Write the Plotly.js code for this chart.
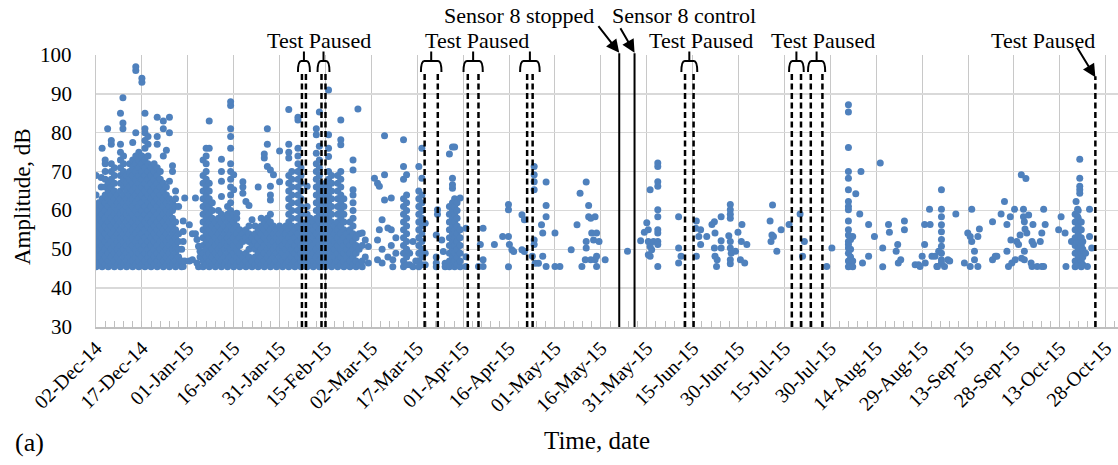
<!DOCTYPE html>
<html>
<head>
<meta charset="utf-8">
<script src="https://cdn.plot.ly/plotly-3.0.1.min.js"></script>
<style>html,body{margin:0;padding:0;background:#fff}#chart{width:1118px;height:465px}</style>
</head>
<body>
<div id="chart"></div>
<script>
// Each entry: [day offset from 02-Dec-2014, amplitude dB, amplitude dB, ...]
const dec14Cols = [
  [0, 45.5,47,49,51,53,55,57,59,61,64,69],
  [1, 46,48,50,52,54,56,58,60,62],
  [1.7, 66,68.5],
  [2, 45.5,47,49,51,53,55,57,59,61,63,76],
  [3, 46,48,50,52,54,56,58,60,62,64,66,68,70,72,73],
  [3.8, 81],
  [4, 45.5,47,49,51,53,55,57,59,61,63,65,67],
  [5, 46,48,50,52,54,56,58,60,62,64,66,68,70,72,77,78],
  [6, 45.5,47,49,51,53,55,57,59,61,63,65,67,69,71],
  [7, 46,48,50,52,54,56,58,60,62,64],
  [8, 45.5,47,49,51,53,55,57,59,61,63,65,67,69,71,73,75,77,85],
  [8.8, 81,82.5,89],
  [9, 46,48,50,52,54,56,58,60,62,64,66,68,70,72,74],
  [10, 45.5,47,49,51,53,55,57,59,61,63,65,67,69],
  [11, 46,48,50,52,54,56,58,60,62,64,66,68,70,72],
  [12, 45.5,47,49,51,53,55,57,59,61,63,65,67,69,71,73,77.5],
  [13, 46,48,50,52,54,56,58,60,62,64,66,68,70,72,74,80,96,97],
  [14, 45.5,47,49,51,53,55,57,59,61,63,65,67,69,71,73,75],
  [15, 46,48,50,52,54,56,58,60,62,64,66,68,70,72,74,93,94],
  [16, 45.5,47,49,51,53,55,57,59,61,63,65,67,69,71,73,76,78,80,81,85],
  [17, 46,48,50,52,54,56,58,60,62,64,66,68,70,72,74,77,79],
  [18, 45.5,47,49,51,53,55,57,59,61,63,65,67,69,71],
  [19, 46,48,50,52,54,56,58,60,62,64,66,68,70,72],
  [20, 45.5,47,49,51,53,55,57,59,61,63,65,67,69,71,77,79,84],
  [21, 46,48,50,52,54,56,58,60,62,64,66,68,70],
  [22, 45.5,47,49,51,53,55,57,59,61,63,65,67,74,81,83],
  [23, 46,48,50,52,54,56,58,60,62,64,66,75.5],
  [24, 45.5,47,49,51,53,55,57,59,61,63,67.5,80,84],
  [25, 46,48,50,52,54,56,58,60,62,70,71.5],
  [26, 45.5,47,49,51,53,55,57,61,63,65],
  [27, 46,48,50,52,54,61],
  [28, 45.5,47,50]
];
const jan15Cols = [
  [28.5, 45.6,52,54.6,57.3],
  [29, 47,63.2],
  [30.5, 47,56.3],
  [31.5, 47.3,54],
  [32.5, 54,63.2],
  [33, 46.5,52.5],
  [33.5, 45.5,50.8],
  [34, 48,49.5],
  [35, 45.5,47,49,51,53,55,57,59,61,63,65,67,69,73],
  [36, 46,48,50,52,54,56,58,60,62,64,66,68,70,72,74,76],
  [37, 45.5,47,49,51,53,55,57,59,61,63,65,67,76,83],
  [38, 46,48,50,52,54,56,58,60,62],
  [39, 45.5,47,49,51,53,55,57],
  [40, 46,48,50,52,54,56,58,60],
  [41, 45.5,47,49,51,53,55,57,59,63.6,67.5,70,73.2],
  [42, 46,48,50,52,54,56,58],
  [43, 45.5,47,49,51,53,55,57,59,61],
  [44, 46,48,50,52,54,56,58,60,62,64,66,68,70,72,76,79,81,87,88],
  [45, 45.5,47,49,51,53,55,57,59,65.3,69.2],
  [46, 46,48,50,52,54,56,58,59.3],
  [47, 45.5,47,49,51,53,55],
  [48, 46,48,52,54,64.4,66,67.4],
  [49, 45.5,47,49,53,55,62.3],
  [50, 46,48,50,52,54,56,61.3],
  [51, 45.5,47,51,53,57.6],
  [52, 46,48,50,52,54,56],
  [53, 45.5,47,49,51,53,55,66],
  [54, 46,48,50,52,54,56,58]
];
const feb15Cols = [
  [55, 45.5,47,49,51,53,55,57,73.5,74.5],
  [56, 46,48,50,52,54,56,58,71.3,77,81],
  [57, 45.5,47,49,51,53,55,57,59,62.7,64,66.2,70.4],
  [58, 46,48,50,52,54,56,69.2],
  [59, 45.5,47,49,51,53,55],
  [60, 46,48,50,52,54,56,67.4,75.3],
  [61, 45.5,47,49,51,53,55],
  [62, 46,48,50,52,54,56],
  [63, 45.5,47,49,51,53,55,57,59,61,63,65,67,69,73.5,75,77,86],
  [64, 46,48,50,52,54,56,58,60,62,64,66,68,70],
  [65, 45.5,47,49,51,53,55],
  [66, 46,48,50,52,54,56,58,60,62,64,66,68,70,72,74,76,83.3,84],
  [67, 45.5,47,49,51,53,55,57,59,61,63,65,67,69,71],
  [68, 46,48,50,52,54,56],
  [69, 45.5,47,49,51,53,55,57,59,61,66.2],
  [70, 46,48,50,52,54,56,58],
  [71, 45.5,47,49,51,53,55,57],
  [72, 46,48,50,52,54,56,58,60,62,64,66,68,70,72,74.7,79.5,81],
  [73, 45.5,47,49,51,53,55,57,59,61,63,65,67,69,71,73,76.5,85.3],
  [74, 46,48,50,52,54,56,58,60,62,64,66],
  [75, 45.5,47,49,51,53,55,57,59,61,63,65,67],
  [76, 46,48,50,52,54,56,58,60,62,64,66,68,70,73.9,76,79.5,91],
  [77, 45.5,47,49,51,53,55,57,59,61,63,65,67,69],
  [78, 46,48,50,52,54,56],
  [79, 45.5,47,49,51,53,55,57,59,61,63,65,67,69],
  [80, 46,48,50,52,54,56,58,60,62,64,66,68,70,76.9,78.2,83.3],
  [81, 45.5,47,49,51,53,55,57,59,61,63],
  [82, 46,48,50,52,54],
  [83, 45.5,47,49,51,53,55,57],
  [84, 46,48,50,52,54,56,58,60,62,64,65.3,70.4,73],
  [85, 45.5,47,49,51,53],
  [85.6, 86.1],
  [86, 46,50,54],
  [87, 45.5,47,51,54.2],
  [88, 48,52.4],
  [89, 46.5,50.7]
];
const mar15Cols = [
  [91, 68.3],
  [92, 67,52.4,47.3],
  [92.6, 66.2,55],
  [93.5, 46.5,50,57.6],
  [94.3, 62.7,69.2,79.2],
  [95.4, 55.5,48],
  [96.5, 55,63.2,51],
  [97, 47.3,45.5],
  [98, 49,53],
  [100.5, 45.5,47,49,51,53,55,57,59,61,63,68,71.3,78.2],
  [101.5, 46,48,50,52,54,56,58,60,62,64,69.2],
  [102.5, 46,49],
  [103.6, 52,45.5],
  [104.5, 47],
  [105.5, 45.5,47,49,51,53,55,57,59,61,63,65,71.3],
  [106.5, 46,48,50,52,54,56,58,60,62,64,68.3,76]
];
const aprMay15Cols = [
  [107.6, 56.7,49,46],
  [111.2, 53.7,48,46.5,45.5],
  [111.6, 60.2,59],
  [113, 52.4],
  [113.5, 49.4],
  [114.1, 46.4,45.5],
  [115.5, 45.5,47,49,51,53,55,57,59,61,74.5],
  [116.5, 46,48,50,52,54,56,58,60,62,65.7,66.6,68.3,76.3],
  [117.2, 45.5,47,49,51,53,55,57,59,61,63,76.3],
  [118, 46,48,50,52,54,56,58,60,62],
  [119, 45.5,47,49,51,53,55,63.2],
  [120.9, 55.4,48.1,45.6],
  [125, 45.6],
  [125.6, 51.2],
  [126.5, 55.4,47.3,45.6],
  [130.2, 51.2],
  [132.9, 53.3],
  [134.8, 53.3,60.2,61.5,45.5],
  [135.1, 51.2],
  [135.9, 49.9],
  [136.5, 49.4],
  [139.2, 58.9,49.9],
  [140, 57.6,49.4],
  [142.6, 48.2],
  [143.2, 71.3,69.2,67.4,65.3,52.4,51.2],
  [143.5, 46.4],
  [144.6, 46.4],
  [145.6, 56.3],
  [146, 54.2,48.2],
  [147.1, 67.3,61.3,58.4,45.6],
  [150, 54.2,45.6],
  [151.6, 45.6],
  [155.3, 49.9],
  [157.2, 56.3],
  [158.2, 64.4],
  [158.8, 45.6],
  [159.9, 47.3],
  [160.2, 67.3,52,50.3],
  [161, 61.3,58.4],
  [161.7, 58,47.3],
  [162, 54.2],
  [162.6, 52.4],
  [163.1, 58.4,47.3],
  [163.6, 45.6,54.2,48.2],
  [164.4, 52],
  [166.4, 47.3]
];
const mayJul15Cols = [
  [173.7, 49.5],
  [178, 52.2],
  [179.2, 54.4],
  [180, 56.8],
  [180.5, 55,52,48.6],
  [181.1, 65.3,50.7,48.2],
  [181.6, 49.9],
  [182.2, 52],
  [183.6, 72.2,71.3,67.4,66.2,60.2,58.4,55,54.2,52,51.2,45.6],
  [190.4, 58.4,50.3,46.5],
  [191.2, 48.2],
  [196, 55.4],
  [196.2, 57.3,48.2],
  [197, 53.3],
  [197.6, 55,51.2],
  [199.6, 53.3],
  [201.3, 56.4],
  [202.1, 57.1,50.3],
  [202.3, 54.2,48.2],
  [202.8, 45.6],
  [203, 47.3],
  [204.3, 58.4,52.2,50.3],
  [206.8, 53.5],
  [207.3, 61.5,60.2,59,58,52,50.3,47.3,46.3],
  [207.6, 49],
  [209, 49.5],
  [209.8, 54.4],
  [210.6, 47.3],
  [210.9, 52],
  [211.1, 56.4],
  [212, 46.5],
  [212.7, 51.2]
];
const julAug15Cols = [
  [220.3, 57.3],
  [220.6, 52],
  [220.9, 53.7],
  [221.1, 61.4],
  [221.4, 53.3],
  [222.5, 49.5],
  [223.9, 55],
  [226.5, 56.4],
  [230.1, 59.1],
  [230.9, 48.2],
  [231.5, 52],
  [238.8, 45.6],
  [240.5, 50.3],
  [245.9, 87.2,85.3,76.2,70,68.3,65.3,62.3,61,60.2,57.3,55,53.7,52,51.2,50.3,49,47,45.5],
  [246.6, 46,48,50,52.5],
  [247.3, 53.3,47,45.5],
  [248.3, 64.3],
  [249.6, 59.1],
  [250, 70],
  [250.5, 46.5],
  [252.5, 56.4,48.2],
  [254.4, 53.3],
  [256.3, 72.2],
  [257.1, 50.3,45.5],
  [259, 56.4],
  [259.3, 54.4],
  [261.5, 49.5],
  [262, 51.2],
  [262.2, 46.5],
  [263, 47.3],
  [264.2, 57.3,55],
  [267.7, 46],
  [268.8, 46],
  [269.3, 45.6],
  [270, 48.2],
  [270.8, 56.4,51.2],
  [271, 46.5],
  [272.4, 60.3],
  [272.6, 56.4],
  [273.2, 48.2],
  [274.2, 48.2],
  [274.8, 45.6],
  [275.4, 49.5]
];
const augOct15Cols = [
  [276.3, 65.3,60.3,58.4,56.3,54.5,52.5,50.8,49,47.3,46.5],
  [275, 45.6],
  [277.3, 45.6],
  [278.4, 47.3],
  [279, 47],
  [281, 59.1],
  [283.8, 46.5],
  [284.9, 54.2],
  [285.7, 53.3,45.6],
  [286.2, 60.3,52],
  [287.1, 49.5,47.3],
  [288.2, 45.6,53.3],
  [288.7, 55.2],
  [293, 57.1,47.3],
  [293.9, 48.2],
  [294.4, 48.2],
  [295.8, 59.1],
  [296.9, 62.3],
  [297.7, 56.4,49.5],
  [298.2, 45.6],
  [298.8, 58.4],
  [299, 52.4],
  [299.3, 46.5],
  [300.2, 60.3],
  [300.4, 47.3],
  [300.9, 52],
  [301.5, 51.2],
  [302, 53.7],
  [302.4, 69.2],
  [302.5, 47.7],
  [303.1, 60.3,58.4],
  [303.4, 57.1,49.5,47.3],
  [303.6, 55.2],
  [303.9, 68.2],
  [304.2, 54.2],
  [304.8, 58.8],
  [305.6, 46.5],
  [305.9, 45.6,52],
  [306.2, 56.4],
  [306.4, 51.2],
  [307.6, 45.6],
  [308.6, 52],
  [309.1, 54.2,45.6],
  [309.7, 60.3,45.6],
  [310.2, 56.4],
  [314.6, 55],
  [315.4, 58.4],
  [316.7, 54.2],
  [317, 45.6],
  [318.8, 52],
  [320, 45.5,47,49,51,53,55,57,59],
  [320.3, 62.3],
  [320.8, 60.3,58.4],
  [321, 46,48,50,52,54,56,58,60],
  [321.5, 73.2,68.3,66.2,65.3,64.4],
  [322, 45.5,47,49,51,53,55,57],
  [322.5, 46,48,50,52],
  [323.4, 49],
  [324, 45.6],
  [324.7, 60.3,53.3],
  [325.4, 50.3]
];

// Event markers (day offsets from 02-Dec-2014)
const pausePairs = [[67.3,68.6],[73.7,75.0],[107.4,111.7],[121.5,125.0],[140.9,142.7],[192.5,195.3],[227.4,230.4],[233.6,237.4]];
const sensorLines = [171.0, 176.0];
const lastPause = 326.6;
const pauseLabelDays = [72.9, 124.4, 197.7, 237.5, 309.6];
const sensorLabels = [["Sensor 8 stopped", 138.4], ["Sensor 8 control", 192.3]];
const yTickValues = [30, 40, 50, 60, 70, 80, 90, 100];

const BASE = Date.UTC(2014, 11, 2);
function dayStr(d) {
  const s = new Date(BASE + Math.round(d * 86400000)).toISOString();
  return s.slice(0, 10) + ' ' + s.slice(11, 19);
}
const pathStr = d => dayStr(d).replace(' ', '_');

const xs = [], ys = [];
[dec14Cols, jan15Cols, feb15Cols, mar15Cols, aprMay15Cols, mayJul15Cols, julAug15Cols, augOct15Cols].forEach(seg => {
  seg.forEach(col => {
    for (let i = 1; i < col.length; i++) { xs.push(dayStr(col[0])); ys.push(col[i]); }
  });
});

const FONT = 'Liberation Serif, Times New Roman, serif';
const shapes = [];
const bracketPad = [1.3, 1.3, 1.2, 1.4, 2.3, 1.2, 0.9, 0.9];
const dashStyle = {color: '#000', width: 2.5, dash: '6px,3.5px'};
pausePairs.forEach((p, i) => {
  p.forEach(d => shapes.push({type: 'line', xref: 'x', yref: 'paper', x0: dayStr(d), x1: dayStr(d), y0: 0, y1: 0.934, line: dashStyle, layer: 'above'}));
  const l = p[0] - bracketPad[i], r = p[1] + bracketPad[i], c = (p[0] + p[1]) / 2;
  const k = 1.1;
  const yb = 0.9375, yt = 0.978, ys2 = 1.013;
  const path = `M${pathStr(l)},${yb} Q${pathStr(l)},${yt} ${pathStr(l + k)},${yt} L${pathStr(r - k)},${yt} Q${pathStr(r)},${yt} ${pathStr(r)},${yb} M${pathStr(c)},${yt} L${pathStr(c)},${ys2}`;
  shapes.push({type: 'path', xref: 'x', yref: 'paper', path: path, line: {color: '#000', width: 2}, layer: 'above'});
});
sensorLines.forEach(d => shapes.push({type: 'line', xref: 'x', yref: 'paper', x0: dayStr(d), x1: dayStr(d), y0: 0, y1: 1.006, line: {color: '#000', width: 2}, layer: 'above'}));
shapes.push({type: 'line', xref: 'x', yref: 'paper', x0: dayStr(lastPause), x1: dayStr(lastPause), y0: 0, y1: 0.922, line: dashStyle, layer: 'above'});

const annFont = {family: FONT, size: 22, color: '#000'};
const annotations = [];
pauseLabelDays.forEach(d => annotations.push({x: dayStr(d), y: 1.052, xref: 'x', yref: 'paper', text: 'Test Paused', showarrow: false, font: annFont, xanchor: 'center', yanchor: 'middle'}));
sensorLabels.forEach(s => annotations.push({x: dayStr(s[1]), y: 1.146, xref: 'x', yref: 'paper', text: s[0], showarrow: false, font: annFont, xanchor: 'center', yanchor: 'middle'}));
const arrowStyle = {showarrow: true, arrowhead: 2, arrowsize: 1.3, arrowwidth: 2, arrowcolor: '#000', text: '', xref: 'x', yref: 'paper', standoff: 0};
annotations.push(Object.assign({x: dayStr(sensorLines[0]), y: 1.0085, ax: -22, ay: -28}, arrowStyle));
annotations.push(Object.assign({x: dayStr(sensorLines[1]), y: 1.0085, ax: -15, ay: -26}, arrowStyle));
annotations.push(Object.assign({x: dayStr(lastPause), y: 0.918, ax: -19, ay: -31}, arrowStyle));
annotations.push({x: -0.0646, y: -0.425, xref: 'paper', yref: 'paper', text: '(a)', showarrow: false, font: {family: FONT, size: 26, color: '#000'}, xanchor: 'center', yanchor: 'middle'});
// y tick labels (drawn at their axis values)
yTickValues.forEach(v => annotations.push({x: -0.0215, y: v, xref: 'paper', yref: 'y', text: String(v), showarrow: false, font: {family: FONT, size: 21, color: '#000'}, xanchor: 'right', yanchor: 'middle'}));
// axis titles
annotations.push({x: -0.0714, y: 0.478, xref: 'paper', yref: 'paper', text: 'Amplitude, dB', textangle: -90, showarrow: false, font: {family: FONT, size: 23, color: '#000'}, xanchor: 'center', yanchor: 'middle'});
annotations.push({x: 0.49, y: -0.419, xref: 'paper', yref: 'paper', text: 'Time, date', showarrow: false, font: {family: FONT, size: 25, color: '#000'}, xanchor: 'center', yanchor: 'middle'});

const trace = {
  type: 'scatter', mode: 'markers', x: xs, y: ys,
  marker: {color: '#4F81BD', size: 7, line: {width: 0}},
  hoverinfo: 'skip', showlegend: false
};

const layout = {
  width: 1118, height: 465,
  margin: {l: 96, r: 0, t: 55, b: 138},
  paper_bgcolor: '#fff', plot_bgcolor: '#fff',
  font: {family: FONT, color: '#000'},
  showlegend: false,
  xaxis: {
    type: 'date',
    range: [dayStr(0), dayStr(334)],
    tick0: dayStr(0), dtick: 15 * 86400000,
    tickformat: '%d-%b-%y', tickangle: -45,
    tickfont: {family: FONT, size: 20, color: '#000'},
    showgrid: true, gridcolor: '#c8c8c8', gridwidth: 1,
    showline: true, linecolor: '#bfbfbf', linewidth: 1.5,
    ticks: 'inside', ticklen: 6, tickcolor: '#bfbfbf',
    minor: {dtick: 3 * 86400000, tick0: dayStr(0), ticks: 'inside', ticklen: 6, tickcolor: '#bfbfbf', showgrid: false},
    zeroline: false
  },
  yaxis: {
    range: [30, 100], dtick: 10, tick0: 30,
    showticklabels: false,
    showgrid: true, gridcolor: '#d9d9d9', gridwidth: 1.5,
    showline: true, linecolor: '#c8c8c8', linewidth: 1,
    ticks: '',
    zeroline: false
  },
  shapes: shapes,
  annotations: annotations
};

Plotly.newPlot('chart', [trace], layout, {staticPlot: true, displayModeBar: false});
</script>
</body>
</html>
